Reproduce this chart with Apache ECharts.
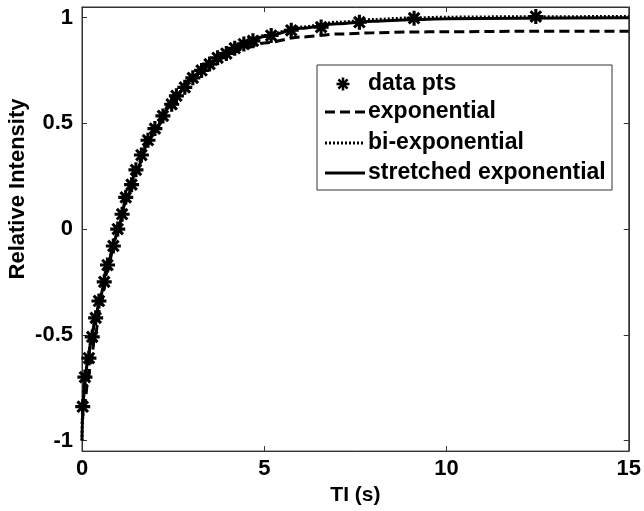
<!DOCTYPE html>
<html>
<head>
<meta charset="utf-8">
<script src="https://cdn.jsdelivr.net/npm/echarts@6/dist/echarts.min.js"></script>
<style>
html,body{margin:0;padding:0;background:#fff;}
#chart{width:644px;height:511px;}
</style>
</head>
<body>
<div id="chart"></div>
<script>
// Data points (TI in s, relative intensity)
var tiData = [0.02,0.08,0.19,0.28,0.375,0.465,0.61,0.70,0.86,0.98,1.10,1.20,1.36,1.48,1.63,1.81,2.0,2.22,2.46,2.59,2.82,3.04,3.28,3.5,3.72,3.96,4.19,4.44,4.69,5.19,5.74,6.56,7.61,9.11,12.45];
var sigData = [-0.84,-0.70,-0.61,-0.51,-0.42,-0.34,-0.25,-0.17,-0.08,0.0,0.07,0.15,0.21,0.28,0.35,0.42,0.475,0.535,0.59,0.63,0.67,0.715,0.75,0.78,0.81,0.83,0.855,0.875,0.89,0.915,0.94,0.955,0.978,0.997,1.005];

// Fit curves sampled at fitT
var fitT = [0,0.01,0.03,0.08,0.15,0.25,0.35,0.5,0.7,0.9,1.0,1.2,1.5,1.8,2.0,2.5,3.0,3.5,4.0,4.5,5,6,7,8,9,10,12,15];
var expFit = [-0.92,-0.907,-0.881,-0.818,-0.734,-0.621,-0.515,-0.370,-0.198,-0.049,0.018,0.138,0.290,0.413,0.481,0.616,0.711,0.777,0.824,0.857,0.880,0.908,0.922,0.928,0.932,0.933,0.935,0.935];
var biexpFit = [-1,-0.89,-0.81,-0.715,-0.628,-0.53,-0.44,-0.32,-0.175,-0.05,0.01,0.13,0.28,0.40,0.47,0.61,0.712,0.787,0.843,0.884,0.915,0.955,0.978,0.991,0.998,1.002,1.004,1.005];
var strFit = [-1,-0.90,-0.82,-0.72,-0.63,-0.53,-0.44,-0.32,-0.175,-0.05,0.01,0.13,0.28,0.40,0.47,0.61,0.71,0.785,0.84,0.88,0.91,0.949,0.971,0.983,0.990,0.994,0.997,0.999];

var xTicks = [0,5,10,15];
var yTicks = [-1,-0.5,0,0.5,1];
var seriesNames = ['data pts','exponential','bi-exponential','stretched exponential'];
var xTitle = 'TI (s)';
var yTitle = 'Relative Intensity';

function pairs(xs, ys){ return xs.map(function(x,i){ return [x, ys[i]]; }); }

var F = '"Liberation Sans", Arial, sans-serif';
var FS = 22;
var asterisk = 'path://M-2.1,-10L2.1,-10L2.1,10L-2.1,10Z M-10,-2.1L10,-2.1L10,2.1L-10,2.1Z M-5.6,-8.5L8.5,5.6L5.6,8.5L-8.5,-5.6Z M5.6,-8.5L8.5,-5.6L-5.6,8.5L-8.5,5.6Z';

var chart = echarts.init(document.getElementById('chart'), null, {renderer:'canvas'});
var axisCol = '#333';
var labelStyle = {color:'#000', fontFamily:F, fontWeight:'bold', fontSize:FS};

// legend drawn as graphic (box, samples, texts)
var LX = 317, LY = 65, LW = 295, LH = 125;
var rows = [84, 112, 143, 173];
var sx1 = 325, sx2 = 365, tx = 368;
var lg = [];
lg.push({type:'rect', shape:{x:LX, y:LY, width:LW, height:LH}, style:{fill:'#fff', stroke:axisCol, lineWidth:1}, z:10});
var ac = 343, ar = 6.5;
[[0,1],[1,0],[0.707,0.707],[0.707,-0.707]].forEach(function(d){
  lg.push({type:'line', shape:{x1:ac-d[0]*ar, y1:rows[0]-d[1]*ar, x2:ac+d[0]*ar, y2:rows[0]+d[1]*ar}, style:{stroke:'#000', lineWidth:2.6}, z:11});
});
var dashes = [[10,5],[2,2],null];
for (var i=1;i<4;i++){
  var st = {stroke:'#000', lineWidth:3};
  if (dashes[i-1]) st.lineDash = dashes[i-1];
  lg.push({type:'line', shape:{x1:sx1, y1:rows[i], x2:sx2, y2:rows[i]}, style:st, z:11});
}
for (var j=0;j<4;j++){
  lg.push({type:'text', x:tx, y:rows[j], style:{text:seriesNames[j], fill:'#000', font:'bold 23px "Liberation Sans", Arial, sans-serif', verticalAlign:'middle', align:'left'}, z:11});
}
// y-axis title (placed off-centre as in the reference)
lg.push({type:'text', x:18, y:189, rotation:Math.PI/2, style:{text:yTitle, fill:'#000', font:'bold 22px "Liberation Sans", Arial, sans-serif', verticalAlign:'middle', align:'center'}, z:11});

chart.setOption({
  animation:false,
  backgroundColor:'#fff',
  grid:{left:82, right:14, top:7, bottom:54, show:true, borderColor:axisCol, borderWidth:1},
  graphic:lg,
  xAxis:[{
    type:'value', min:0, max:15, interval:5,
    name:xTitle, nameLocation:'middle', nameGap:27,
    nameTextStyle:{color:'#000', fontFamily:F, fontWeight:'bold', fontSize:21},
    axisLine:{onZero:false, lineStyle:{color:axisCol}},
    axisTick:{inside:true, length:5, lineStyle:{color:axisCol}, customValues:xTicks},
    axisLabel:Object.assign({margin:7, customValues:xTicks}, labelStyle),
    splitLine:{show:false}
  },{
    type:'value', min:0, max:15, interval:5, position:'top',
    axisLine:{onZero:false, lineStyle:{color:axisCol}},
    axisTick:{inside:true, length:5, lineStyle:{color:axisCol}},
    axisLabel:{show:false}, splitLine:{show:false}
  }],
  yAxis:[{
    type:'value', min:-1.05, max:1.05,
    axisLine:{show:true, onZero:false, lineStyle:{color:axisCol}},
    axisTick:{show:true, inside:true, length:5, lineStyle:{color:axisCol}, customValues:yTicks},
    axisLabel:Object.assign({margin:9, customValues:yTicks, formatter:function(v){return String(v);}}, labelStyle),
    splitLine:{show:false}
  },{
    type:'value', min:-1.05, max:1.05, position:'right',
    axisLine:{show:true, onZero:false, lineStyle:{color:axisCol}},
    axisTick:{show:true, inside:true, length:5, lineStyle:{color:axisCol}, customValues:yTicks},
    axisLabel:{show:false}, splitLine:{show:false}
  }],
  series:[
    {name:seriesNames[0], type:'scatter', data:pairs(tiData, sigData), symbol:asterisk, symbolSize:15,
     itemStyle:{color:'#000', opacity:1}, z:3},
    {name:seriesNames[1], type:'line', data:pairs(fitT, expFit), smooth:0.3, smoothMonotone:'x', showSymbol:false, symbol:'none',
     lineStyle:{color:'#000', width:3, type:[10,5]}, z:2},
    {name:seriesNames[2], type:'line', data:pairs(fitT, biexpFit), smooth:0.3, smoothMonotone:'x', showSymbol:false, symbol:'none',
     lineStyle:{color:'#000', width:3, type:[2,2]}, z:2},
    {name:seriesNames[3], type:'line', data:pairs(fitT, strFit), smooth:0.3, smoothMonotone:'x', showSymbol:false, symbol:'none',
     lineStyle:{color:'#000', width:3}, z:2}
  ]
});
</script>
</body>
</html>
